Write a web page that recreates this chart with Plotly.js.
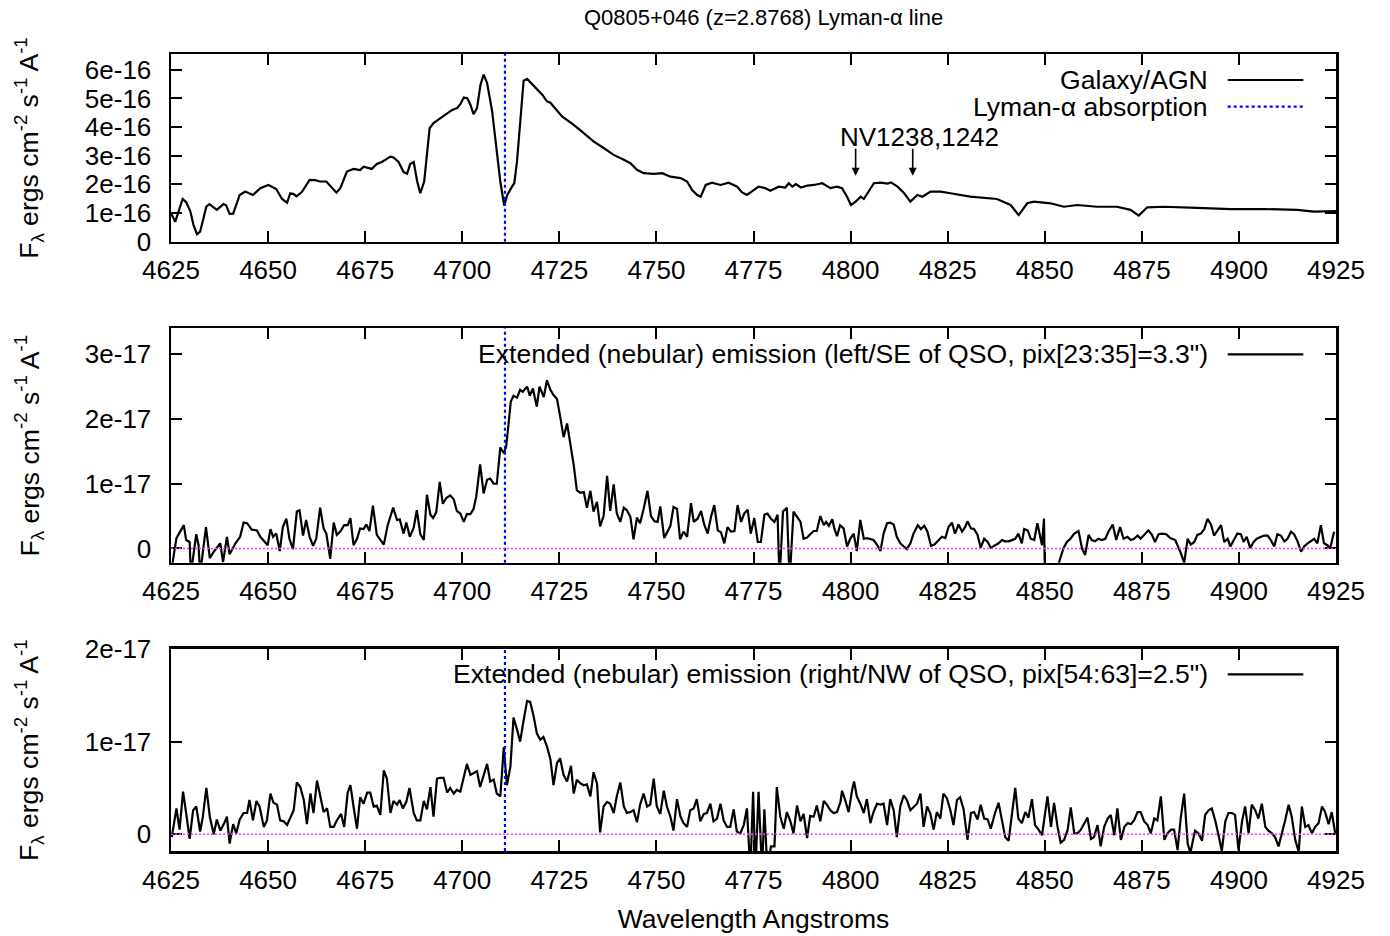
<!DOCTYPE html>
<html>
<head>
<meta charset="utf-8">
<script src="https://cdn.plot.ly/plotly-3.0.1.min.js"></script>
<style>html,body{margin:0;padding:0;background:#fff}</style>
</head>
<body>
<div id="chart" style="width:1390px;height:936px"></div>
<script>
// ---- Spectra of Q0805+046 around redshifted Lyman-alpha ----

// Galaxy/AGN spectrum: wavelength (Angstrom) and flux in units of 1e-16 erg/cm^2/s/A
const agnWave = [4625.0,4626.1,4628.0,4628.9,4630.0,4630.8,4631.7,4632.5,4634.1,4634.9,4636.8,4638.5,4639.2,4640.1,4641.0,4642.7,4644.1,4646.1,4648.0,4650.1,
  4652.1,4653.6,4654.9,4655.7,4656.6,4657.3,4658.7,4660.7,4662.1,4663.4,4665.0,4666.5,4667.6,4668.6,4670.3,4672.0,4673.7,4674.6,4675.9,4676.7,
  4678.0,4679.3,4681.5,4682.3,4683.6,4684.9,4685.8,4686.6,4687.5,4688.4,4689.2,4690.2,4691.6,4692.6,4694.4,4695.7,4697.4,4698.7,4699.5,4700.4,
  4701.3,4702.1,4702.9,4703.8,4704.7,4705.5,4706.4,4707.7,4708.9,4709.8,4710.8,4711.6,4712.8,4713.4,4714.1,4715.0,4715.8,4716.7,4718.0,4719.7,
  4720.6,4721.8,4722.7,4725.7,4728.7,4731.3,4733.8,4736.4,4739.0,4741.6,4743.3,4745.0,4746.7,4749.3,4751.5,4753.6,4756.2,4757.9,4759.2,4760.5,
  4761.4,4762.7,4764.3,4766.5,4768.6,4770.8,4772.0,4773.3,4775.0,4776.3,4778.0,4779.3,4781.5,4783.2,4784.1,4785.0,4785.9,4787.2,4788.9,4790.6,
  4792.7,4794.8,4796.5,4797.8,4799.1,4800.1,4801.3,4802.6,4803.4,4804.3,4806.0,4807.8,4809.5,4810.4,4812.1,4813.8,4815.4,4817.2,4818.5,4820.6,
  4823.2,4825.7,4830.8,4837.7,4841.2,4843.3,4845.5,4847.2,4851.5,4854.9,4858.4,4863.5,4868.6,4872.1,4874.2,4876.4,4880.7,4889.3,4897.9,4906.5,
  4915.0,4919.3,4925.0];
const agnFlux = [0.99,0.70,1.49,1.38,1.05,0.58,0.26,0.35,1.22,1.31,1.11,1.31,1.27,0.97,0.98,1.63,1.75,1.63,1.87,1.98,
  1.84,1.49,1.36,1.69,1.66,1.58,1.73,2.16,2.15,2.10,2.10,1.87,1.71,1.87,2.45,2.54,2.50,2.62,2.56,2.54,
  2.71,2.78,2.97,2.94,2.78,2.43,2.37,2.71,2.78,2.10,1.69,2.10,3.96,4.14,4.31,4.43,4.60,4.66,4.80,5.03,
  5.01,4.78,4.45,4.66,5.48,5.83,5.54,4.55,3.15,2.10,1.26,1.63,1.92,2.04,2.80,4.20,5.62,5.68,5.50,5.24,
  5.13,4.90,4.85,4.37,4.08,3.79,3.50,3.27,3.03,2.86,2.74,2.51,2.39,2.37,2.39,2.27,2.22,2.10,1.80,1.63,
  1.57,1.98,2.06,1.98,2.06,1.92,1.73,1.63,1.81,1.92,1.87,1.78,1.92,1.89,2.04,1.92,2.01,1.89,1.96,1.98,
  2.04,1.87,1.92,1.87,1.57,1.28,1.40,1.57,1.49,1.69,2.04,2.06,2.03,2.07,1.92,1.69,1.40,1.63,1.57,1.75,
  1.75,1.69,1.57,1.49,1.28,0.93,1.34,1.40,1.34,1.22,1.28,1.22,1.22,1.11,0.91,1.20,1.22,1.18,1.14,1.14,
  1.11,1.05,1.07];

// Extended emission, left/SE of QSO: wavelength and flux in units of 1e-17
const seWave = [4625.2,4626.4,4628.3,4628.9,4629.8,4630.1,4631.5,4632.1,4632.5,4634.0,4635.0,4636.0,4637.7,4638.4,4639.4,4640.1,4641.6,4642.8,4643.7,4644.6,
  4645.8,4647.1,4648.0,4649.3,4649.9,4650.6,4651.3,4652.1,4653.0,4653.8,4654.7,4655.5,4656.4,4657.4,4658.1,4659.0,4659.8,4660.7,4661.6,4662.4,
  4663.4,4664.3,4665.0,4666.0,4666.9,4667.7,4668.6,4669.6,4670.5,4671.2,4672.0,4672.9,4673.7,4674.6,4675.3,4676.1,4677.0,4678.0,4678.9,4679.8,
  4680.8,4682.2,4683.2,4683.9,4684.9,4685.6,4686.5,4687.5,4688.3,4689.2,4690.1,4690.9,4691.8,4692.5,4693.3,4694.2,4695.0,4695.9,4696.9,4697.8,
  4698.6,4699.5,4700.4,4701.2,4702.1,4702.9,4703.6,4704.6,4705.5,4706.4,4707.2,4708.1,4708.9,4709.8,4710.7,4711.3,4711.9,4712.5,4713.2,4714.1,
  4714.9,4715.6,4716.7,4717.4,4718.2,4719.2,4719.9,4721.0,4721.8,4722.7,4723.5,4724.4,4725.3,4726.1,4727.0,4727.8,4728.7,4729.5,4730.4,4731.3,
  4732.1,4733.0,4733.8,4734.7,4735.5,4736.4,4737.3,4738.1,4739.0,4739.8,4740.7,4741.6,4742.4,4743.3,4744.1,4745.0,4745.8,4746.7,4747.7,4748.6,
  4749.5,4750.3,4751.0,4752.0,4752.9,4753.6,4754.4,4755.3,4756.1,4757.0,4757.9,4758.9,4759.6,4760.6,4761.5,4762.3,4763.2,4764.1,4764.9,4765.8,
  4766.6,4767.5,4768.3,4769.2,4770.1,4770.9,4771.8,4772.6,4773.5,4774.3,4775.2,4776.1,4776.9,4777.8,4778.6,4779.5,4780.4,4781.2,4781.7,4782.6,
  4783.6,4784.3,4785.3,4786.2,4787.1,4787.9,4788.8,4789.6,4790.5,4791.3,4792.2,4793.1,4793.7,4794.4,4795.3,4795.8,4796.5,4797.3,4798.2,4799.1,
  4799.9,4800.8,4801.6,4802.5,4803.4,4804.2,4805.1,4805.9,4806.8,4807.7,4808.5,4809.4,4810.2,4811.1,4811.9,4812.8,4813.7,4814.5,4815.4,4816.2,
  4817.3,4818.1,4819.0,4819.8,4820.7,4821.6,4822.4,4823.5,4824.4,4825.2,4826.1,4826.9,4827.8,4828.7,4829.5,4830.1,4831.0,4831.8,4832.7,4833.5,
  4834.4,4835.3,4836.1,4837.2,4838.1,4839.0,4839.8,4840.7,4841.5,4842.4,4843.2,4844.1,4844.7,4845.6,4846.4,4847.3,4848.1,4849.3,4849.8,4850.1,
  4851.8,4853.5,4854.8,4855.7,4856.6,4857.6,4858.7,4859.6,4860.4,4861.3,4862.1,4863.0,4863.8,4864.7,4865.6,4866.4,4867.5,4868.4,4869.4,4870.3,
  4871.3,4872.2,4873.0,4873.9,4874.7,4875.9,4876.7,4877.6,4878.4,4879.3,4880.2,4881.3,4882.3,4883.6,4884.9,4885.9,4886.8,4887.6,4888.5,4889.3,
  4890.2,4891.1,4891.9,4892.8,4893.6,4894.5,4895.4,4896.2,4897.1,4897.8,4898.8,4899.6,4900.5,4901.2,4902.0,4902.9,4903.8,4904.6,4905.7,4906.5,
  4907.4,4908.2,4909.1,4909.9,4910.8,4911.7,4912.5,4913.4,4914.2,4915.1,4916.0,4916.8,4917.7,4918.5,4919.4,4920.2,4921.1,4921.9,4922.8,4923.5,
  4924.5];
const seFlux = [-0.30,0.16,0.36,0.13,0.10,-0.40,0.22,0.05,-0.40,0.33,-0.15,-0.05,0.08,-0.21,0.18,-0.09,0.08,0.18,0.40,0.39,
  0.29,0.28,0.18,0.08,0.05,0.30,0.18,0.23,-0.04,0.33,0.46,0.15,-0.01,0.57,0.59,0.20,0.44,0.18,0.04,0.15,
  0.63,0.31,0.23,-0.16,0.40,0.21,0.26,0.36,0.36,0.47,0.05,0.15,0.31,0.30,0.37,0.27,0.66,0.21,0.14,0.06,
  0.36,0.63,0.44,0.45,0.23,0.40,0.18,0.32,0.59,0.22,0.13,0.83,0.52,0.47,0.56,1.03,0.69,0.78,0.82,0.76,
  0.58,0.54,0.41,0.53,0.53,0.61,0.80,1.30,0.85,1.06,1.08,1.00,1.00,1.56,1.47,1.57,1.91,2.27,2.36,2.33,
  2.45,2.42,2.50,2.36,2.47,2.19,2.50,2.34,2.60,2.45,2.37,2.31,2.01,1.72,1.93,1.64,1.29,0.90,0.86,0.87,
  0.63,0.89,0.57,0.72,0.34,0.50,1.12,0.58,0.99,0.54,0.41,0.63,0.59,0.49,0.14,0.48,0.39,0.61,0.89,0.50,
  0.42,0.41,0.65,0.16,0.26,0.35,0.64,0.61,0.14,0.26,0.18,0.70,0.41,0.46,0.58,0.37,0.23,0.50,0.67,0.28,
  0.25,0.08,0.33,0.26,0.27,0.67,0.41,0.54,0.60,0.23,0.47,0.10,0.10,0.52,0.54,0.46,0.41,0.52,-0.50,0.57,
  0.63,-0.50,0.57,0.49,0.41,0.15,0.17,0.22,0.27,0.27,0.50,0.36,0.41,0.35,0.45,0.31,0.19,0.36,0.31,0.03,
  0.15,0.23,-0.04,0.44,0.15,0.16,0.15,0.13,0.06,-0.04,0.23,0.39,0.40,0.37,0.18,0.08,0.03,-0.01,0.08,0.23,
  0.36,0.30,0.35,0.26,0.04,0.06,0.11,0.18,0.16,0.33,0.40,0.23,0.37,0.26,0.33,0.42,0.31,0.30,0.21,0.01,
  0.15,0.10,0.01,0.05,0.08,0.13,0.11,0.11,0.13,0.15,0.23,0.08,0.30,0.28,0.15,0.13,0.39,0.05,0.46,-0.60,
  -0.80,-0.25,0.00,0.10,0.15,0.23,0.27,0.00,-0.10,0.21,0.13,0.11,0.15,0.13,0.15,0.26,0.37,0.13,0.33,0.15,
  0.18,0.13,0.15,0.20,0.15,0.22,0.28,0.21,0.10,0.22,0.23,0.22,0.16,0.13,-0.05,-0.22,0.15,0.06,0.10,0.21,
  0.23,0.30,0.46,0.37,0.20,0.28,0.36,0.10,0.15,0.03,0.15,0.23,0.22,0.10,0.18,0.01,0.10,0.15,0.18,0.20,
  0.20,0.13,0.03,0.22,0.20,0.11,0.15,0.26,0.22,0.11,-0.05,0.03,0.08,0.11,0.15,0.08,0.36,0.08,0.05,0.00,
  0.26];

// Extended emission, right/NW of QSO: wavelength and flux in units of 1e-17
const nwWave = [4625.2,4626.4,4627.2,4628.1,4628.9,4629.8,4630.7,4631.5,4632.5,4633.2,4634.1,4635.0,4636.0,4636.8,4637.7,4638.6,4639.4,4640.1,4641.0,4641.8,
  4642.7,4643.7,4644.6,4645.2,4646.1,4647.0,4647.8,4648.9,4649.7,4650.6,4651.4,4652.3,4653.1,4654.0,4654.9,4655.7,4656.6,4657.4,4658.3,4659.2,
  4660.0,4660.9,4661.7,4662.6,4663.4,4664.3,4665.2,4666.0,4666.9,4667.7,4668.8,4669.6,4670.5,4671.2,4672.0,4672.9,4673.7,4674.6,4675.5,4676.3,
  4677.2,4678.0,4678.9,4679.8,4680.6,4681.5,4682.3,4683.2,4683.9,4684.7,4685.6,4686.4,4687.5,4688.3,4689.2,4690.1,4690.9,4691.8,4692.6,4693.5,
  4694.3,4695.2,4696.1,4696.9,4697.8,4698.6,4699.5,4700.4,4701.2,4702.1,4702.9,4703.8,4704.6,4705.5,4706.4,4707.2,4708.1,4708.9,4709.8,4710.7,
  4711.5,4712.4,4713.2,4714.1,4714.9,4715.8,4716.7,4717.5,4718.4,4719.2,4720.1,4720.9,4721.8,4722.7,4723.5,4724.4,4725.2,4726.1,4727.0,4728.0,
  4728.7,4729.5,4730.4,4731.3,4732.1,4733.0,4733.8,4734.7,4735.5,4736.4,4737.3,4738.1,4739.0,4739.8,4740.7,4741.6,4742.4,4743.3,4744.1,4745.0,
  4745.8,4746.7,4747.6,4748.4,4749.3,4750.1,4751.0,4751.9,4752.7,4753.6,4754.4,4755.3,4756.2,4757.0,4757.9,4758.7,4759.6,4760.4,4761.3,4762.2,
  4763.0,4763.9,4764.7,4765.6,4766.5,4767.3,4768.2,4769.0,4769.9,4770.7,4771.6,4772.5,4773.3,4774.2,4774.9,4775.5,4776.3,4777.2,4777.8,4778.6,
  4779.5,4780.4,4781.0,4781.9,4782.8,4783.6,4784.5,4785.3,4786.2,4787.1,4787.9,4788.8,4789.6,4790.5,4791.3,4792.2,4793.1,4793.9,4794.8,4795.6,
  4796.5,4797.4,4797.8,4798.6,4799.5,4800.4,4800.9,4801.6,4802.5,4803.4,4804.2,4805.1,4805.9,4806.8,4807.7,4808.5,4809.4,4810.2,4811.1,4811.9,
  4812.8,4813.7,4814.5,4815.4,4816.2,4817.1,4818.0,4818.8,4819.7,4820.5,4821.4,4822.2,4823.1,4823.9,4824.8,4825.7,4826.5,4827.4,4828.2,4829.1,
  4830.1,4831.0,4831.8,4832.7,4833.5,4834.4,4835.3,4836.1,4837.2,4838.1,4839.0,4839.8,4840.7,4841.5,4842.4,4843.2,4844.1,4845.0,4845.8,4846.7,
  4847.5,4848.4,4849.3,4850.1,4850.7,4851.6,4852.4,4853.3,4854.1,4855.0,4855.9,4856.7,4857.6,4858.4,4859.3,4860.2,4861.0,4861.9,4862.7,4863.6,
  4864.4,4865.3,4866.2,4867.0,4867.9,4868.7,4869.6,4870.5,4871.3,4872.2,4873.0,4873.9,4874.7,4875.6,4876.5,4877.3,4878.2,4879.0,4879.9,4880.8,
  4881.6,4882.5,4883.3,4884.2,4885.0,4885.9,4886.8,4887.5,4888.7,4889.6,4890.5,4891.3,4892.2,4893.0,4893.9,4894.7,4895.6,4896.5,4897.3,4898.2,
  4899.0,4899.9,4900.8,4901.6,4902.5,4903.3,4904.2,4905.0,4905.9,4906.8,4907.6,4908.5,4909.3,4910.2,4911.1,4911.9,4912.8,4913.6,4914.5,4915.4,
  4916.2,4917.1,4917.9,4918.8,4919.6,4920.5,4921.4,4922.2,4923.1,4923.9,4924.8];
const nwFlux = [-0.03,0.28,0.05,0.46,0.23,-0.05,0.26,0.30,0.03,0.19,0.50,0.19,0.00,0.16,0.04,0.11,0.19,-0.10,0.11,0.01,
  0.16,0.23,0.23,0.37,0.15,0.36,0.30,0.08,0.15,0.44,0.34,0.32,0.15,0.14,0.10,0.17,0.26,0.56,0.51,0.37,
  0.11,0.44,0.23,0.58,0.41,0.24,0.28,0.08,0.08,0.15,0.22,0.08,0.45,0.53,0.30,0.06,0.40,0.33,0.45,0.45,
  0.30,0.31,0.21,0.69,0.60,0.23,0.36,0.32,0.37,0.28,0.35,0.50,0.23,0.15,0.15,0.36,0.27,0.51,0.19,0.60,
  0.61,0.61,0.45,0.50,0.44,0.48,0.46,0.62,0.76,0.64,0.66,0.68,0.51,0.64,0.76,0.57,0.59,0.44,0.41,0.94,
  0.53,0.73,1.26,1.13,1.00,1.23,1.44,1.43,1.27,1.09,1.02,1.05,0.95,0.81,0.53,0.77,0.82,0.64,0.57,0.74,
  0.44,0.59,0.55,0.53,0.54,0.41,0.67,0.55,0.02,0.30,0.35,0.33,0.23,0.41,0.56,0.30,0.23,0.24,0.26,0.13,
  0.32,0.44,0.30,0.32,0.60,0.30,0.22,0.47,0.30,0.19,0.04,0.38,0.19,0.12,0.08,0.26,0.28,0.38,0.14,0.22,
  0.23,0.33,0.14,0.17,0.33,0.15,0.08,0.08,0.27,0.03,0.01,0.10,0.28,-0.40,0.46,-0.40,0.46,-0.40,0.27,-0.40,
  -0.13,-0.13,0.51,0.19,0.06,0.24,0.14,0.01,0.31,0.14,0.22,-0.04,0.20,0.19,0.31,0.14,0.36,0.32,0.26,0.23,
  0.24,0.35,0.47,0.37,0.24,0.48,0.57,0.41,0.33,0.23,0.38,0.12,0.24,0.33,0.32,0.33,0.10,0.38,0.26,-0.03,
  0.30,0.42,0.37,0.26,0.29,0.33,0.44,0.08,0.30,0.23,0.05,0.24,0.17,0.44,0.39,0.26,0.10,0.37,0.40,0.27,
  -0.06,0.23,0.24,0.16,0.32,0.17,0.16,0.06,0.23,0.34,0.15,-0.03,-0.07,0.23,0.50,0.17,0.12,0.24,0.18,0.38,
  0.10,0.05,-0.01,0.23,0.41,0.08,0.34,0.08,-0.09,-0.06,0.05,0.29,0.01,0.01,0.05,0.12,0.18,-0.05,-0.03,0.10,
  -0.13,0.08,0.17,0.21,-0.01,0.28,-0.06,0.08,0.12,0.11,0.15,0.24,0.24,0.14,0.10,0.01,0.17,0.15,0.41,-0.06,
  0.01,0.05,0.05,-0.17,0.17,0.44,-0.10,-0.20,0.04,0.01,-0.07,0.21,0.26,0.28,0.15,0.00,-0.18,0.14,0.23,0.23,
  0.21,-0.17,0.14,0.30,0.01,0.32,0.26,0.17,0.33,0.08,0.04,0.01,-0.03,-0.13,0.01,0.15,0.32,0.19,-0.06,-0.19,
  0.30,0.08,0.10,0.01,0.08,0.12,0.30,0.24,0.11,0.24,0.01];

const AGN_UNIT = 1e-16;      // flux unit of agnFlux
const EXT_UNIT = 1e-17;      // flux unit of seFlux / nwFlux

// Lyman-alpha absorption wavelength and the NV doublet markers
const lyaWavelength = 4711;
const nvWavelengths = [4801.3, 4816.0];
const nvArrowTail = 3.3e-16, nvArrowHead = 2.3e-16;
const nvLabel = 'NV1238,1242';

// Axis ranges and ticks
const waveRange = [4625, 4925];
const agnTicks = [0, 1e-16, 2e-16, 3e-16, 4e-16, 5e-16, 6e-16];
const agnTickText = ['0', '1e-16', '2e-16', '3e-16', '4e-16', '5e-16', '6e-16'];
const seTicks = [0, 1e-17, 2e-17, 3e-17];
const seTickText = ['0', '1e-17', '2e-17', '3e-17'];
const nwTicks = [0, 1e-17, 2e-17];
const nwTickText = ['0', '1e-17', '2e-17'];

const titleText = 'Q0805+046 (z=2.8768) Lyman-α line';
const yLabel = 'F<sub>λ</sub> ergs cm<sup>-2</sup> s<sup>-1</sup> A<sup>-1</sup>';
const xLabel = 'Wavelength Angstroms';
const keyAgn = 'Galaxy/AGN';
const keyLya = 'Lyman-α absorption';
const keySE = 'Extended (nebular) emission (left/SE of QSO, pix[23:35]=3.3")';
const keyNW = 'Extended (nebular) emission (right/NW of QSO, pix[54:63]=2.5")';

const FONT = 'Liberation Sans, Arial, Helvetica, sans-serif';
const TEXT_SIZE = 26.6;
const scale = (arr, unit) => arr.map(v => v * unit);

const lineStyle = {color: '#000000', width: 2.2};
const traces = [
  {x: agnWave, y: scale(agnFlux, AGN_UNIT), xaxis: 'x', yaxis: 'y', mode: 'lines', line: lineStyle, name: keyAgn, showlegend: false, hoverinfo: 'skip'},
  {x: seWave, y: scale(seFlux, EXT_UNIT), xaxis: 'x2', yaxis: 'y2', mode: 'lines', line: lineStyle, name: keySE, showlegend: false, hoverinfo: 'skip'},
  {x: nwWave, y: scale(nwFlux, EXT_UNIT), xaxis: 'x3', yaxis: 'y3', mode: 'lines', line: lineStyle, name: keyNW, showlegend: false, hoverinfo: 'skip'}
];

const frame = {
  ticks: 'inside', ticklen: 11, tickwidth: 2, tickcolor: '#000',
  showline: true, linewidth: 2.5, linecolor: '#000', mirror: 'allticks',
  showgrid: false, zeroline: false,
  tickfont: {family: FONT, size: 26, color: '#000'}
};
function xAxis(anchor, extra) {
  return Object.assign({}, frame, {
    anchor: anchor, range: waveRange, tick0: 4625, dtick: 25, ticklabelstandoff: 4
  }, extra || {});
}
function yAxis(domain, range, vals, text) {
  return Object.assign({}, frame, {
    domain: domain, range: range, tickmode: 'array', tickvals: vals, ticktext: text, ticklabelstandoff: 12
  });
}

const blueDot = {color: '#0000ff', width: 2.2, dash: '3px,3px'};
const pinkDot = {color: '#ff33ff', width: 1.4, dash: '2px,2px'};

const shapes = [];
// Lyman-alpha marker through every panel
[['x', 'y domain'], ['x2', 'y2 domain'], ['x3', 'y3 domain']].forEach(([xr, yr]) => {
  shapes.push({type: 'line', xref: xr, yref: yr, x0: lyaWavelength, x1: lyaWavelength, y0: 0, y1: 1, line: blueDot, layer: 'above'});
});
// zero level in the extended-emission panels
[['x2 domain', 'y2'], ['x3 domain', 'y3']].forEach(([xr, yr]) => {
  shapes.push({type: 'line', xref: xr, yref: yr, x0: 0, x1: 1, y0: 0, y1: 0, line: pinkDot, layer: 'above'});
});

// Key entries (text right-aligned, sample to the right), placed in pixel terms
const PLOT_L = 171, PLOT_W = 1165, PLOT_B = 851, PLOT_H = 797;
const px = x => (x - PLOT_L) / PLOT_W;
const py = y => (PLOT_B - y) / PLOT_H;
const keyRows = [
  {text: keyAgn, y: 80, line: {color: '#000', width: 2.2}},
  {text: keyLya, y: 106.7, line: blueDot},
  {text: keySE, y: 354.3, line: {color: '#000', width: 2.2}},
  {text: keyNW, y: 674.3, line: {color: '#000', width: 2.2}}
];

const annotations = [];
keyRows.forEach(r => {
  annotations.push({xref: 'paper', yref: 'paper', x: px(1210), y: py(r.y), xanchor: 'right', yanchor: 'middle',
    text: r.text, showarrow: false, font: {family: FONT, size: TEXT_SIZE, color: '#000'}});
  shapes.push({type: 'line', xref: 'paper', yref: 'paper', x0: px(1227.7), x1: px(1303.3), y0: py(r.y), y1: py(r.y), line: r.line});
});

// y-axis labels for each panel
['y domain', 'y2 domain', 'y3 domain'].forEach(yr => {
  annotations.push({xref: 'paper', yref: yr, x: px(29), y: 0.5, xanchor: 'center', yanchor: 'middle',
    textangle: -90, text: yLabel, showarrow: false, font: {family: FONT, size: TEXT_SIZE, color: '#000'}});
});

// NV doublet markers
nvWavelengths.forEach(w => {
  annotations.push({xref: 'x', yref: 'y', x: w, y: nvArrowHead, axref: 'x', ayref: 'y', ax: w, ay: nvArrowTail,
    text: '', showarrow: true, arrowhead: 2, arrowsize: 1, arrowwidth: 1.6, arrowcolor: '#000'});
});
annotations.push({xref: 'x', yref: 'y', x: 4796.8, y: 3.67e-16, xanchor: 'left', yanchor: 'middle',
  text: nvLabel, showarrow: false, font: {family: FONT, size: 26, color: '#000'}});

const layout = {
  width: 1390, height: 936,
  margin: {l: 171, r: 54, t: 54, b: 85, pad: 0},
  paper_bgcolor: '#ffffff', plot_bgcolor: '#ffffff',
  font: {family: FONT, size: 26, color: '#000'},
  showlegend: false,
  title: {text: titleText, font: {family: FONT, size: 22, color: '#000'}, x: px(763.5), xref: 'paper',
    xanchor: 'center', y: 1 - 17 / 936, yref: 'container', yanchor: 'middle'},
  xaxis: xAxis('y'),
  xaxis2: xAxis('y2'),
  xaxis3: xAxis('y3', {title: {text: xLabel, font: {family: FONT, size: 26.5, color: '#000'}, standoff: 16}}),
  yaxis: yAxis([0.7645, 1], [0, 6.55e-16], agnTicks, agnTickText),
  yaxis2: yAxis([0.3617, 0.6558], [-2.2e-18, 3.4e-17], seTicks, seTickText),
  yaxis3: yAxis([0, 0.2535], [-1.8e-18, 2.0e-17], nwTicks, nwTickText),
  shapes: shapes,
  annotations: annotations
};

Plotly.newPlot('chart', traces, layout, {staticPlot: true, displayModeBar: false});
</script>
</body>
</html>
